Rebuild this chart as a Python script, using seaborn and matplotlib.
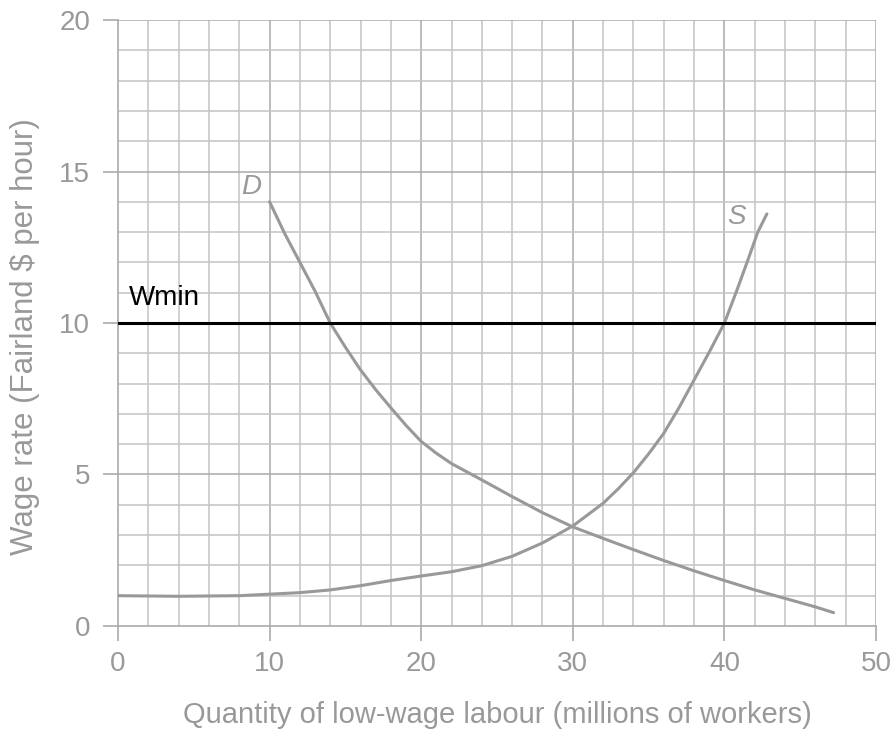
import numpy as np
import pandas as pd
import seaborn as sns
import matplotlib.pyplot as plt

# values
demand_q = [10, 11, 12, 13, 14, 15, 16, 17, 18, 19, 20, 21, 22, 24, 26, 28, 30, 32, 34, 36, 38, 40, 42, 44, 46, 47.2]
demand_w = [14, 12.95, 12, 11.05, 10, 9.2, 8.45, 7.8, 7.2, 6.62, 6.09, 5.7, 5.36, 4.82, 4.27, 3.74, 3.27, 2.89, 2.52, 2.16, 1.82, 1.5, 1.19, 0.91, 0.63, 0.44]

supply_q = [0, 4, 8, 10, 12, 14, 16, 18, 20, 22, 24, 26, 28, 30, 32, 33, 34, 35, 36, 37, 38, 39, 40, 40.8, 41.6, 42.2, 42.8]
supply_w = [1.0, 0.98, 1.0, 1.05, 1.1, 1.19, 1.33, 1.5, 1.65, 1.79, 1.99, 2.3, 2.74, 3.3, 4.05, 4.53, 5.06, 5.68, 6.36, 7.2, 8.12, 9.04, 10, 11.05, 12.15, 13.0, 13.6]

wmin = 10
x_ticks = [0, 10, 20, 30, 40, 50]
y_ticks = [0, 5, 10, 15, 20]

sns.set_style("white")
plt.rcParams['font.family'] = ['Liberation Sans', 'DejaVu Sans']

grey = '#999999'
fig = plt.figure(figsize=(8.93, 7.33), dpi=100)
ax = fig.add_axes([0.1321, 0.146, 0.8489, 0.8267])

# graph-paper grid
for xv in np.arange(2, 50, 2):
    ax.axvline(xv, color='#c4c4c4' if xv % 10 else '#aaaaaa', lw=1.1, zorder=0)
for yv in np.arange(1, 21, 1):
    ax.axhline(yv, color='#c4c4c4' if yv % 5 else '#aaaaaa', lw=1.1, zorder=0)
ax.axvline(50, color='#aaaaaa', lw=1.1, zorder=0)

dem = pd.DataFrame({'q': demand_q, 'w': demand_w})
sup = pd.DataFrame({'q': supply_q, 'w': supply_w})
sns.lineplot(data=dem, x='q', y='w', ax=ax, color=grey, lw=2.2, sort=False, zorder=3)
sns.lineplot(data=sup, x='q', y='w', ax=ax, color=grey, lw=2.2, sort=False, zorder=3)
ax.axhline(wmin, color='black', lw=2.2, zorder=4)

ax.text(0.7, 10.4, 'Wmin', fontsize=20, color='black', va='bottom', ha='left')
ax.text(8.8, 14.5, 'D', fontsize=20, color=grey, style='italic', va='center', ha='center')
ax.text(40.8, 13.5, 'S', fontsize=20, color=grey, style='italic', va='center', ha='center')

ax.set_xlim(0, 50)
ax.set_ylim(0, 20)
ax.set_xticks(x_ticks)
ax.set_yticks(y_ticks)
ax.tick_params(axis='both', direction='out', length=11, width=1.2, color='#aaaaaa',
               labelcolor=grey, labelsize=20, left=True, bottom=True)
ax.tick_params(axis='x', pad=7)
ax.tick_params(axis='y', pad=9)
for side in ['top', 'right']:
    ax.spines[side].set_visible(False)
for side in ['left', 'bottom']:
    ax.spines[side].set_color('#aaaaaa')
    ax.spines[side].set_linewidth(1.2)

ax.set_xlabel('Quantity of low-wage labour (millions of workers)', fontsize=21, color=grey)
ax.set_ylabel('Wage rate (Fairland $ per hour)', fontsize=22.5, color=grey)
ax.xaxis.set_label_coords(0.5, -0.124)
ax.yaxis.set_label_coords(-0.103, 0.478)

fig.savefig('out.png', dpi=100)
